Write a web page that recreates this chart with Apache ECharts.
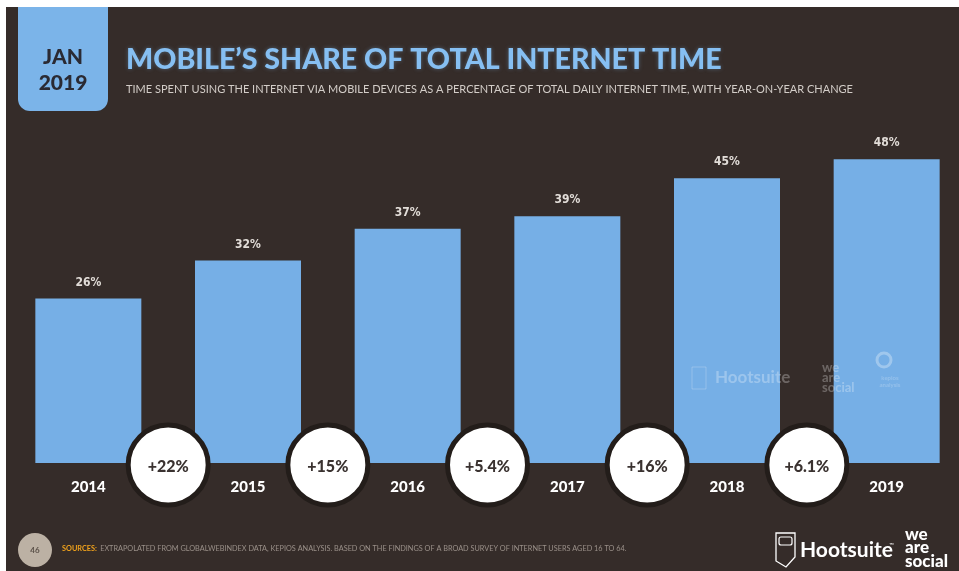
<!DOCTYPE html>
<html>
<head>
<meta charset="utf-8">
<script src="https://cdn.jsdelivr.net/npm/echarts/dist/echarts.min.js"></script>
<style>
  html, body { margin: 0; padding: 0; background: #ffffff; }
  #chart { width: 959px; height: 571px; }
</style>
</head>
<body>
<div id="chart"></div>
<script>
// Mobile share of daily internet time, by year
const years = ['2014', '2015', '2016', '2017', '2018', '2019'];
const mobileShare = [26, 32, 37, 39, 45, 48];
// Year-on-year change, shown between consecutive bars
const yoyChange = [22, 15, 5.4, 16, 6.1];

const BG = '#352c29';
const BAR = '#76afe6';
const BLUE_TEXT = '#86bff2';

const chart = echarts.init(document.getElementById('chart'), null, { renderer: 'canvas' });

const changePoints = yoyChange.map((v, i) => [i + 0.5, 0, v]);

chart.setOption({
  backgroundColor: BG,
  animation: false,
  title: [
    {
      text: 'MOBILE\u2019S SHARE OF TOTAL INTERNET TIME',
      left: 121, top: 40,
      textStyle: {
        color: BLUE_TEXT, fontFamily: 'Lato', fontWeight: 900, fontSize: 28.6,
        textShadowColor: 'rgba(134,191,242,0.35)', textShadowBlur: 4
      }
    },
    {
      text: 'TIME SPENT USING THE INTERNET VIA MOBILE DEVICES AS A PERCENTAGE OF TOTAL DAILY INTERNET TIME, WITH YEAR-ON-YEAR CHANGE',
      left: 121, top: 79,
      textStyle: { color: '#d3cdc8', fontFamily: 'Lato', fontWeight: 'normal', fontSize: 11 }
    }
  ],
  grid: { left: 8.5, top: 146.5, width: 958, height: 316.5, containLabel: false, outerBoundsMode: 'none' },
  xAxis: [
    {
      type: 'category', data: years,
      axisLine: { show: false }, axisTick: { show: false }, splitLine: { show: false },
      axisLabel: {
        color: '#ffffff', fontFamily: 'Lato', fontWeight: 900, fontSize: 15, margin: 17
      }
    },
    { type: 'value', min: -0.5, max: 5.5, show: false }
  ],
  yAxis: { type: 'value', min: 0, max: 50, show: false },
  series: [
    {
      type: 'bar', data: mobileShare, xAxisIndex: 0, barWidth: 106,
      itemStyle: { color: BAR },
      label: {
        show: true, position: 'top', distance: 10,
        formatter: p => p.value + '%',
        color: '#e2ddd8', fontFamily: '"DejaVu Sans Condensed", "DejaVu Sans", sans-serif',
        fontWeight: 'bold', fontSize: 12
      },
      z: 2
    },
    {
      type: 'scatter', data: changePoints, xAxisIndex: 1, clip: false,
      symbol: 'circle', symbolSize: 80, symbolOffset: [0, 2],
      itemStyle: { color: '#ffffff', borderColor: '#231d1a', borderWidth: 5, opacity: 1 },
      label: {
        show: true, position: 'inside', offset: [0, 2],
        formatter: p => '+' + p.value[2] + '%',
        color: '#3a3230', fontFamily: 'Lato', fontWeight: 900, fontSize: 16
      },
      z: 5
    }
  ],
  graphic: [
    // date tab
    { type: 'rect', shape: { x: 18, y: 7, width: 90, height: 104, r: [0, 0, 12, 12] },
      style: { fill: '#7bb4e9' }, z: 10 },
    { type: 'text', x: 63, y: 57, z: 11,
      style: { text: 'JAN', fill: '#2a2a33', font: '900 21px Lato', textAlign: 'center', textVerticalAlign: 'middle' } },
    { type: 'text', x: 63, y: 83, z: 11,
      style: { text: '2019', fill: '#2a2a33', font: '900 21px Lato', textAlign: 'center', textVerticalAlign: 'middle' } },

    // faint brand marks over the bars
    { type: 'text', x: 715, y: 378, z: 20,
      style: { text: 'Hootsuite', fill: 'rgba(255,255,255,0.28)', font: 'bold 17px Lato', textVerticalAlign: 'middle' } },
    { type: 'rect', shape: { x: 692, y: 367, width: 14, height: 22 }, z: 20,
      style: { fill: 'none', stroke: 'rgba(255,255,255,0.22)', lineWidth: 1 } },
    { type: 'text', x: 822, y: 378, z: 20,
      style: { text: 'we\nare\nsocial', fill: 'rgba(255,255,255,0.28)', font: 'bold 13px Lato', lineHeight: 10, textVerticalAlign: 'middle' } },
    { type: 'circle', shape: { cx: 884, cy: 360, r: 7 }, z: 20,
      style: { fill: 'none', stroke: 'rgba(255,255,255,0.3)', lineWidth: 3 } },
    { type: 'text', x: 890, y: 382, z: 20,
      style: { text: 'kepios\nanalysis', fill: 'rgba(255,255,255,0.22)', font: 'bold 6px Lato', lineHeight: 7, textAlign: 'center', textVerticalAlign: 'middle' } },

    // footer: page number and source
    { type: 'circle', shape: { cx: 35, cy: 550, r: 17 }, style: { fill: '#bcb1a4' }, z: 10 },
    { type: 'text', x: 35, y: 550, z: 11,
      style: { text: '46', fill: '#5a5048', font: 'bold 8px Lato', textAlign: 'center', textVerticalAlign: 'middle' } },
    { type: 'text', x: 62, y: 549, z: 11,
      style: {
        text: '{s|SOURCES:} {t|EXTRAPOLATED FROM GLOBALWEBINDEX DATA, KEPIOS ANALYSIS. BASED ON THE FINDINGS OF A BROAD SURVEY OF INTERNET USERS AGED 16 TO 64.}',
        textVerticalAlign: 'middle',
        rich: {
          s: { fill: '#f0a21c', font: 'bold 7.3px Lato' },
          t: { fill: '#9a9089', font: '7.3px Lato' }
        }
      } },

    // footer logos
    { type: 'polygon', z: 11,
      shape: { points: [[776, 533], [795, 533], [795, 557], [786, 567], [776, 561]] },
      style: { fill: 'none', stroke: '#ffffff', lineWidth: 1.3 } },
    { type: 'rect', shape: { x: 779, y: 537, width: 13, height: 8, r: 2 }, z: 11,
      style: { fill: 'none', stroke: '#ffffff', lineWidth: 1.2 } },
    { type: 'text', x: 800, y: 550, z: 11,
      style: { text: 'Hootsuite', fill: '#ffffff', font: 'bold 21px Lato', textVerticalAlign: 'middle' } },
    { type: 'text', x: 889, y: 545, z: 11,
      style: { text: '\u2122', fill: '#ffffff', font: '6px Lato', textVerticalAlign: 'middle' } },
    { type: 'text', x: 905, y: 548, z: 11,
      style: { text: 'we\nare\nsocial', fill: '#ffffff', font: '900 17px Lato', lineHeight: 13.5, textVerticalAlign: 'middle' } },

    // white margins along the top and left
    { type: 'rect', shape: { x: 0, y: 0, width: 959, height: 7 }, style: { fill: '#ffffff' }, z: 50 },
    { type: 'rect', shape: { x: 0, y: 0, width: 6, height: 571 }, style: { fill: '#ffffff' }, z: 50 }
  ]
});
</script>
</body>
</html>
